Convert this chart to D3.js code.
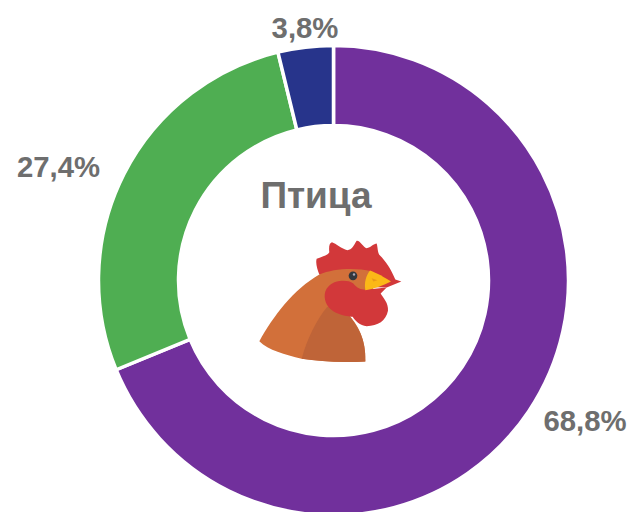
<!DOCTYPE html>
<html><head><meta charset="utf-8">
<script src="https://cdnjs.cloudflare.com/ajax/libs/d3/7.8.5/d3.min.js"></script>
<style>html,body{margin:0;padding:0;background:#fff}svg{display:block}</style></head>
<body><svg id="c" width="631" height="512"></svg>
<script>
const categories = ["Группа A", "Группа B", "Группа C"];
const values = [68.8, 27.4, 3.8];
const labels = ["68,8%", "27,4%", "3,8%"];
const colors = ["#71309c", "#4fae52", "#27348b"];
const title = "Птица";

const svg = d3.select("#c");
const cx = 333.5, cy = 280.5, R = 235, r = 155;
const pie = d3.pie().sort(null).value(d => d)(values);
const arc = d3.arc().innerRadius(r).outerRadius(R);
const g = svg.append("g").attr("transform", `translate(${cx},${cy})`);
g.selectAll("path").data(pie).join("path")
  .attr("d", arc)
  .attr("fill", (d, i) => colors[i])
  .attr("stroke", "#fff").attr("stroke-width", 3.5);

const labelPos = [[585, 420], [58.5, 166], [305, 27]];
svg.selectAll("text.l").data(labels).join("text").attr("class", "l")
  .attr("x", (d, i) => labelPos[i][0]).attr("y", (d, i) => labelPos[i][1])
  .attr("text-anchor", "middle").attr("dominant-baseline", "central")
  .attr("font-family", "Liberation Sans").attr("font-weight", "bold")
  .attr("font-size", 29.3).attr("fill", "#6e6e6e").text(d => d);
svg.append("text").attr("x", 316).attr("y", 195)
  .attr("text-anchor", "middle").attr("dominant-baseline", "central")
  .attr("font-family", "Liberation Sans").attr("font-weight", "bold")
  .attr("font-size", 37).attr("fill", "#6e6e6e").text(title);

// Rooster illustration
const ro = svg.append("g").attr("transform", "translate(240,219.5) scale(0.3333)");
ro.append("path").attr("fill", "#d2383a").attr("d", "M238,165 C232,150 226,130 230,118 C245,112 262,108 268,98 C266,82 268,70 276,68 C288,72 305,88 322,92 C336,92 342,76 350,64 C360,62 370,84 380,86 C392,84 402,72 410,72 C414,84 412,100 420,108 C436,124 452,146 466,180 L484,186 L440,204 L300,200 Z");
ro.append("path").attr("fill", "#d2703a").attr("d", "M58,365 C100,290 160,210 238,165 C280,148 340,144 395,155 L400,215 L330,290 C355,320 378,360 376,426 C300,430 240,426 185,418 C135,405 85,392 58,365 Z");
ro.append("path").attr("fill", "#bf6438").attr("d", "M185,418 C200,360 230,300 262,262 L320,280 C355,320 378,360 376,426 C300,430 240,426 185,418 Z");
ro.append("path").attr("fill", "#d2383a").attr("d", "M340,192 C352,208 368,212 382,210 L440,204 L422,222 C430,236 446,250 444,274 C438,304 414,320 380,320 C360,318 345,304 338,292 C325,290 300,288 280,275 C258,262 250,236 256,216 C264,194 290,182 310,184 C322,184 332,186 340,192 Z");
ro.append("path").attr("fill", "#fbb817").attr("d", "M390,153 C410,160 435,174 453,186 C430,198 405,208 376,212 C372,190 378,168 390,153 Z");
ro.append("path").attr("fill", "#e89a1a").attr("d", "M395,176 L412,182 L400,186 Z");
ro.append("circle").attr("cx", 339).attr("cy", 169).attr("r", 13).attr("fill", "#33383d");
ro.append("circle").attr("cx", 342).attr("cy", 165).attr("r", 3.5).attr("fill", "#aab");
</script></body></html>
